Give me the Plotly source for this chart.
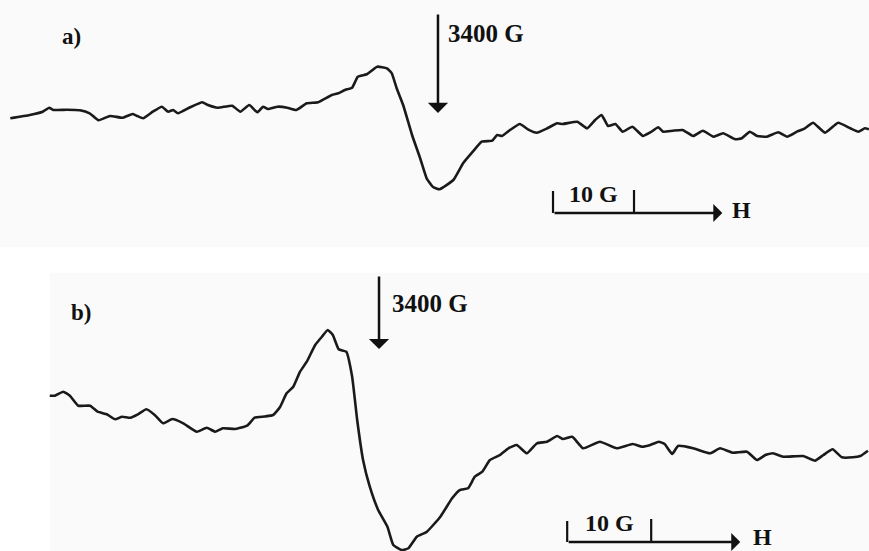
import plotly.graph_objects as go

# ---------------- data ----------------
# Spectrum a): magnetic field (G) and derivative EPR signal (a.u.)
field_a = [3347.2, 3349.6, 3351.2, 3352.0, 3352.5, 3354.2, 3355.8, 3357.0, 3358.1, 3359.5,
           3361.1, 3362.3, 3362.8, 3363.6, 3364.8, 3365.9, 3366.7, 3367.3, 3367.9, 3369.4,
           3370.9, 3371.6, 3372.8, 3374.6, 3375.6, 3376.7, 3377.7, 3378.4, 3379.0, 3380.2,
           3381.4, 3382.5, 3383.8, 3385.2, 3386.9, 3387.7, 3388.5, 3389.4, 3390.1, 3391.2,
           3392.5, 3393.7, 3394.3, 3394.9, 3395.7, 3396.8, 3397.8, 3398.6, 3399.4, 3400.2,
           3401.9, 3403.1, 3404.3, 3405.4, 3406.7, 3407.3, 3407.9, 3408.9, 3410.1, 3411.1,
           3412.2, 3413.5, 3414.7, 3415.4, 3417.2, 3418.4, 3419.4, 3420.2, 3421.0, 3421.9,
           3422.8, 3424.0, 3425.3, 3426.2, 3427.2, 3427.8, 3429.0, 3430.2, 3431.5, 3432.7,
           3434.0, 3435.2, 3436.7, 3437.5, 3438.5, 3439.4, 3440.6, 3442.0, 3443.1, 3444.3,
           3445.3, 3446.3, 3447.8, 3449.4, 3450.9, 3451.9, 3452.7, 3453.2]
signal_a = [0.67, 1.0, 1.33, 1.73, 1.5, 1.53, 1.47, 1.17, 0.47, 0.9,
            0.73, 1.1, 0.93, 0.67, 1.33, 1.83, 1.33, 1.5, 1.17, 1.77,
            2.27, 2.0, 1.73, 1.93, 1.33, 2.0, 1.27, 1.83, 1.6, 1.83,
            1.73, 1.5, 2.17, 2.27, 3.0, 3.17, 3.5, 3.73, 4.83, 5.07,
            5.83, 5.67, 5.17, 3.67, 2.0, -1.0, -3.33, -5.33, -6.2, -6.43,
            -5.5, -3.83, -2.67, -1.67, -1.57, -1.0, -1.1, -0.5, 0.1, -0.43,
            -0.77, -0.33, 0.17, 0.1, 0.33, -0.33, 0.5, 1.0, -0.1, 0.1,
            -0.67, -0.17, -1.1, -0.75, -0.23, -0.67, -0.57, -0.5, -1.1, -0.57,
            -1.17, -0.83, -1.43, -1.33, -0.67, -1.1, -1.17, -0.73, -1.17, -0.67,
            -0.33, 0.23, -0.77, 0.23, -0.33, -0.67, -0.33, -0.43]

# Spectrum b)
field_b = [3360.8, 3361.4, 3362.4, 3363.2, 3364.2, 3365.6, 3366.5, 3367.6, 3368.6, 3369.4,
           3370.4, 3371.3, 3372.3, 3373.3, 3374.3, 3375.4, 3376.7, 3378.3, 3379.5, 3380.5,
           3381.4, 3382.9, 3384.3, 3385.2, 3386.4, 3387.4, 3388.2, 3389.0, 3389.8, 3390.6,
           3391.4, 3392.4, 3393.2, 3393.9, 3394.5, 3395.2, 3396.1, 3396.8, 3397.4, 3398.1,
           3398.9, 3399.9, 3401.0, 3401.7, 3402.7, 3403.5, 3404.5, 3405.7, 3407.3, 3408.7,
           3409.6, 3410.6, 3411.4, 3412.3, 3413.2, 3414.4, 3415.4, 3416.4, 3417.6, 3418.8,
           3420.0, 3421.2, 3421.9, 3423.0, 3424.3, 3426.3, 3428.3, 3430.2, 3431.3, 3432.3,
           3433.3, 3434.0, 3434.9, 3435.6, 3437.4, 3439.4, 3440.6, 3442.1, 3443.8, 3445.0,
           3446.0, 3446.9, 3448.1, 3450.5, 3451.9, 3452.9, 3454.0, 3455.1, 3456.4, 3457.3,
           3458.2]
signal_b = [5.43, 5.43, 5.83, 5.43, 4.43, 4.43, 3.83, 3.57, 3.07, 3.33,
            3.23, 3.57, 4.07, 3.5, 2.67, 3.1, 2.67, 1.83, 2.23, 1.83,
            2.17, 2.1, 2.43, 3.23, 3.35, 3.5, 4.27, 5.67, 6.33, 7.83,
            8.83, 10.5, 11.33, 12.0, 11.5, 10.07, 9.83, 7.33, 3.0, -1.0,
            -3.67, -6.0, -7.67, -9.5, -10.0, -9.83, -8.67, -8.17, -6.67, -4.83,
            -4.0, -3.83, -2.67, -2.17, -1.0, -0.5, 0.17, 0.5, -0.33, 0.67,
            0.83, 1.4, 1.1, 1.33, 0.17, 0.83, 0.17, 0.6, 0.33, 0.5,
            0.83, 0.6, -0.4, 0.4, 0.17, -0.33, 0.17, -0.27, -0.17, -1.0,
            -0.5, -0.33, -0.67, -0.6, -1.07, -0.5, 0.07, -0.73, -0.73, -0.6,
            -0.07]

panel_labels = ["a)", "b)"]
center_field = 3400          # G, marked by the arrow
center_label = "3400 G"
scale_len = 10               # G, scale bar
scale_label = "10 G"
axis_label = "H"
scale_start = [3414.2, 3422.4]   # G, left end of the scale bar in a) and b)

# ---------------- figure ----------------
INK = "#111111"
FONT = "Liberation Serif, Times New Roman, serif"

fig = go.Figure()
fig.add_trace(go.Scatter(x=field_a, y=signal_a, mode="lines", xaxis="x", yaxis="y",
                         line=dict(color="#1a1a1a", width=2.6, shape="spline", smoothing=0.4),
                         showlegend=False, hoverinfo="skip"))
fig.add_trace(go.Scatter(x=field_b, y=signal_b, mode="lines", xaxis="x2", yaxis="y2",
                         line=dict(color="#1a1a1a", width=2.6, shape="spline", smoothing=0.4),
                         showlegend=False, hoverinfo="skip"))

ax_common = dict(visible=False, showgrid=False, zeroline=False, fixedrange=True)
fig.update_layout(
    width=869, height=551, autosize=False,
    margin=dict(l=0, r=0, t=0, b=0, pad=0),
    paper_bgcolor="#ffffff", plot_bgcolor="rgba(0,0,0,0)",
    xaxis=dict(domain=[0, 1], range=[3345.93, 3453.21], anchor="y", **ax_common),
    yaxis=dict(domain=[0.5463, 1], range=[-12.5, 12.5], anchor="x", **ax_common),
    xaxis2=dict(domain=[0, 1], range=[3354.88, 3458.33], anchor="y2", **ax_common),
    yaxis2=dict(domain=[0, 0.5281], range=[-10.1, 19.0], anchor="x2", **ax_common),
)

# faint scanned-page background patches
fig.add_shape(type="rect", xref="paper", yref="paper", x0=0, x1=1, y0=1 - 247 / 551, y1=1,
              fillcolor="#fafafa", line=dict(width=0), layer="below")
fig.add_shape(type="rect", xref="paper", yref="paper", x0=50 / 869, x1=1, y0=0, y1=1 - 273 / 551,
              fillcolor="#fafafa", line=dict(width=0), layer="below")

panels = [
    dict(xr="x", yr="y", lab=(3354.8, 8.9), arr=(11.2, 1.2), txt=(3401.0, 9.2),
         sy=-8.8, ticks=(-6.6, -6.5), ten=(-6.9), h=(3437.5, -8.5), tip=3435.1),
    dict(xr="x2", yr="y2", lab=(3364.5, 13.8), arr=(17.5, 10.1), txt=(3401.3, 14.7),
         sy=-9.2, ticks=(-7.1, -6.9), ten=(-7.3), h=(3445.6, -8.7), tip=3443.0),
]

for i, p in enumerate(panels):
    xr, yr = p["xr"], p["yr"]
    fig.add_annotation(x=p["lab"][0], y=p["lab"][1], xref=xr, yref=yr, text="<b>%s</b>" % panel_labels[i],
                       showarrow=False, font=dict(family=FONT, size=23, color=INK))
    fig.add_annotation(x=center_field, y=p["arr"][1], ax=center_field, ay=p["arr"][0],
                       xref=xr, yref=yr, axref=xr, ayref=yr, text="", showarrow=True,
                       arrowhead=1, arrowsize=1.35, arrowwidth=2.5, arrowcolor=INK)
    fig.add_annotation(x=p["txt"][0], y=p["txt"][1], xref=xr, yref=yr, text="<b>%s</b>" % center_label,
                       showarrow=False, xanchor="left", font=dict(family=FONT, size=25, color=INK))
    s0 = scale_start[i]
    s1 = s0 + scale_len
    fig.add_shape(type="line", xref=xr, yref=yr, x0=s0, x1=s0, y0=p["sy"], y1=p["ticks"][0],
                  line=dict(color=INK, width=2.2))
    fig.add_shape(type="line", xref=xr, yref=yr, x0=s1, x1=s1, y0=p["sy"], y1=p["ticks"][1],
                  line=dict(color=INK, width=2.2))
    fig.add_annotation(x=p["tip"], y=p["sy"], ax=s0, ay=p["sy"], xref=xr, yref=yr, axref=xr, ayref=yr,
                       text="", showarrow=True, arrowhead=1, arrowsize=1.3, arrowwidth=2.3, arrowcolor=INK)
    fig.add_annotation(x=(s0 + s1) / 2, y=p["ten"], xref=xr, yref=yr, text="<b>%s</b>" % scale_label,
                       showarrow=False, font=dict(family=FONT, size=24, color=INK))
    fig.add_annotation(x=p["h"][0], y=p["h"][1], xref=xr, yref=yr, text="<b>%s</b>" % axis_label,
                       showarrow=False, font=dict(family=FONT, size=24, color=INK))

fig.write_html("out.html", config={"displayModeBar": False, "staticPlot": True},
               post_script="document.body.style.margin='0';document.body.style.padding='0';")
